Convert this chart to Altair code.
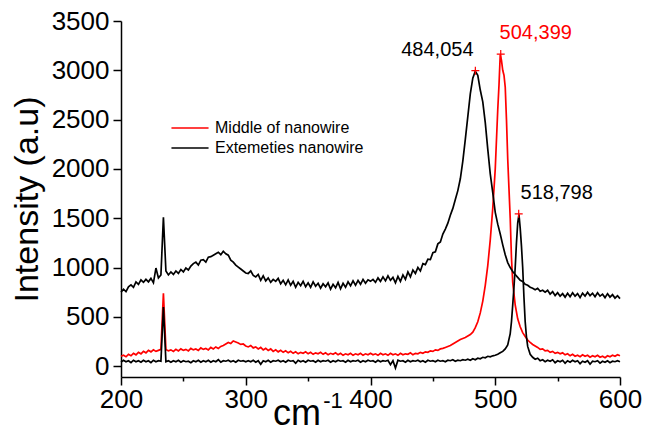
import altair as alt
import pandas as pd

# ---- data ----
X_GRID = list(range(200, 601, 2))

MIDDLE = (
    [100, 110, 95, 120, 105, 130, 115, 140, 125, 150, 135, 160, 145, 165, 150, 160, 170, 740, 170, 155]
    + [165, 150, 170, 155, 175, 160, 170, 155, 180, 165, 175, 160, 185, 170, 180, 165, 190, 175, 195, 180,
       200, 210, 225, 240, 230, 255, 245, 235, 220, 225, 205]
    + [195, 210, 185, 195, 175, 190, 165, 180, 160, 175, 150, 165, 145, 160, 140, 155, 135, 150, 130, 145,
       125, 140, 130, 145, 125, 140, 120, 135, 125, 140, 120, 135, 115, 130, 120, 135, 115, 130, 110, 125,
       115, 130, 110, 125, 115, 130, 110, 125, 115, 130]
    + [115, 125, 110, 130, 115, 125, 110, 130, 115, 125, 110, 130, 115, 125, 120, 135, 115, 130, 125, 140,
       130, 145, 140, 155, 150, 165, 160, 175, 180, 190]
    + [200, 210, 225, 240, 255, 270, 280, 290, 305, 320, 345, 390, 450, 540, 660, 820, 1020, 1280, 1600, 2000]
    + [2600, 3160, 3000, 2830, 2100, 1500, 850, 620, 480, 400, 340, 300, 265, 240, 220, 205, 190, 170, 175, 155,
       160, 140, 150, 130, 140, 125, 135, 115, 125, 105, 120, 100, 110, 95, 115, 100, 110, 90, 105, 95,
       110, 90, 100, 85, 105, 95, 110, 100, 115, 105]
)
MIDDLE_DX = [501, 503, 505, 507, 509, 511, 513]
MIDDLE_DY = [2300, 2850, 3100, 2950, 2500, 1800, 1100]

EXT_UPPER = (
    [750, 780, 755, 805, 825, 800, 855, 830, 875, 850, 880, 855, 890, 845, 995, 895, 925, 1510, 965, 925]
    + [955, 930, 965, 940, 980, 955, 995, 975, 1015, 1040, 1055, 1025, 1075, 1080, 1055, 1105, 1110, 1125, 1140, 1155,
       1130, 1165, 1140, 1125, 1075, 1055, 1025, 1005, 985, 965, 945]
    + [940, 965, 920, 905, 930, 870, 915, 865, 895, 850, 880, 860, 890, 835, 870, 825, 875, 820, 860, 800,
       850, 815, 860, 805, 845, 800, 855, 810, 840, 790, 835, 805, 845, 780, 830, 795, 850, 785, 840, 800,
       855, 815, 865, 820, 870, 830, 880, 840, 875, 860]
    + [880, 850, 895, 860, 905, 865, 915, 870, 900, 845, 910, 860, 925, 880, 955, 905, 975, 940, 1000, 965,
       1040, 1030, 1085, 1080, 1150, 1160, 1240, 1260, 1340, 1390]
    + [1450, 1530, 1600, 1690, 1780, 1900, 2080, 2300, 2530, 2760, 2920, 2990, 2950, 2800, 2680, 2470, 2200, 1950, 1760, 1560]
    + [1440, 1340, 1230, 1130, 1050, 1000, 960, 930, 900, 870, 860, 830, 820, 800, 790, 775, 790, 760, 770, 750,
       770, 730, 755, 715, 745, 710, 735, 700, 740, 705, 745, 710, 735, 695, 740, 710, 750, 715, 740, 705,
       745, 710, 730, 695, 735, 700, 725, 690, 715, 685]
)

EXT_LOWER = (
    [40, 60, 45, 55, 35, 60, 45, 55, 40, 60, 45, 55, 35, 60, 45, 55, 50, 600, 45, 55]
    + [40, 55, 45, 60, 40, 55, 45, 50, 35, 55, 45, 60, 40, 55, 45, 60, 40, 55, 45, 65,
       40, 55, 50, 60, 45, 55, 40, 60, 50, 55, 45]
    + [55, 45, 60, 40, 55, 20, 55, 45, 60, 40, 55, 50, 60, 45, 55, 40, 60, 50, 55, 30,
       60, 45, 55, 40, 60, 50, 55, 40, 60, 45, 55, 50, 60, 40, 55, 45, 60, 50, 55, 40,
       60, 45, 55, 50, 60, 40, 55, 45, 60, 50]
    + [55, 40, 60, 45, 55, 50, 60, 15, 55, -20, 60, 50, 55, 40, 60, 45, 55, 50, 60, 45,
       55, 40, 60, 50, 55, 45, 60, 50, 55, 45]
    + [60, 55, 65, 50, 60, 55, 65, 60, 70, 60, 75, 65, 80, 75, 90, 85, 100, 95, 105, 110]
    + [120, 135, 150, 175, 215, 330, 620, 1000, 1450, 1400, 1000, 450, 200, 120, 90, 70, 80, 55, 65, 45,
       60, 50, 65, 35, 55, 45, 60, 30, 55, 40, 60, 45, 55, 25, 50, 40, 55, 20, 50, 45,
       55, 30, 50, 40, 55, 35, 50, 45, 55, 45]
)
LOWER_DX = [513, 515, 517, 519, 521, 523, 525]
LOWER_DY = [450, 800, 1250, 1540, 1220, 700, 300]

LEGEND_NAMES = ["Middle of nanowire", "Extemeties nanowire"]
LEGEND_COLORS = ["#ff0000", "#000000"]

PEAK_X = [484.054, 504.399, 518.798]
PEAK_Y = [2996, 3165, 1545]
PEAK_LABELS = ["484,054", "504,399", "518,798"]
PEAK_COLORS = ["black", "#ff0000", "black"]
PEAK_DX = [-38, 35, 38]


def series_frame(name, legend, ys, dx=(), dy=()):
    df = pd.DataFrame({"x": X_GRID + list(dx), "y": list(ys) + list(dy)})
    df = df.sort_values("x").reset_index(drop=True)
    df["series"] = name
    df["legend"] = legend
    return df


mid_df = series_frame("middle", LEGEND_NAMES[0], MIDDLE, MIDDLE_DX, MIDDLE_DY)
up_df = series_frame("ext_upper", LEGEND_NAMES[1], EXT_UPPER)
low_df = series_frame("ext_lower", LEGEND_NAMES[1], EXT_LOWER, LOWER_DX, LOWER_DY)

FONT = "Liberation Sans"

x_enc = alt.X(
    "x:Q",
    scale=alt.Scale(domain=[200, 600], nice=False, zero=False),
    axis=alt.Axis(
        title="",
        values=list(range(200, 601, 25)),
        labelExpr="datum.value % 100 === 0 ? datum.label : ''",
        tickSize={"condition": {"test": "datum.value % 100 === 0", "value": 8}, "value": 4},
        labelFont=FONT, labelFontSize=26, labelColor="black", labelPadding=1,
        labelFlush=False, labelOverlap=False,
        domainColor="black", domainWidth=1.5, tickColor="black", tickWidth=1.5,
        grid=False,
    ),
)
y_enc = alt.Y(
    "y:Q",
    scale=alt.Scale(domain=[-110, 3500], nice=False, zero=False),
    axis=alt.Axis(
        title="Intensity (a.u)",
        titleFont=FONT, titleFontSize=34, titleFontWeight="normal", titleColor="black",
        titlePadding=7,
        values=list(range(0, 3501, 250)),
        labelExpr="datum.value % 500 === 0 ? datum.label : ''",
        format="d",
        tickSize={"condition": {"test": "datum.value % 500 === 0", "value": 8}, "value": 4},
        labelFont=FONT, labelFontSize=26, labelColor="black", labelPadding=4,
        labelFlush=False, labelOverlap=False,
        domainColor="black", domainWidth=1.5, tickColor="black", tickWidth=1.5,
        grid=False,
    ),
)
color_enc = alt.Color(
    "legend:N",
    scale=alt.Scale(domain=LEGEND_NAMES, range=LEGEND_COLORS),
    legend=alt.Legend(
        title=None, orient="none", legendX=61, legendY=99,
        symbolType="M-4,0L4,0", symbolSize=86, symbolStrokeWidth=1.5,
        labelFont=FONT, labelFontSize=16, labelColor="black", labelOffset=17,
        rowPadding=4, padding=0,
    ),
)

line_mid = alt.Chart(mid_df).mark_line(strokeWidth=1.7).encode(x=x_enc, y=y_enc, color=color_enc)
line_up = alt.Chart(up_df).mark_line(strokeWidth=1.7).encode(x=x_enc, y=y_enc, color=color_enc)
line_low = alt.Chart(low_df).mark_line(strokeWidth=1.7).encode(x=x_enc, y=y_enc, color=color_enc)

peak_df = pd.DataFrame({"x": PEAK_X, "y": PEAK_Y, "label": PEAK_LABELS})
markers = alt.Chart(peak_df).mark_point(
    shape="M-1,0L1,0M0,-1L0,1", size=64, filled=False, color="#ff0000", strokeWidth=1.2, opacity=1
).encode(x="x:Q", y="y:Q")

label_layers = []
for i in range(len(PEAK_X)):
    label_layers.append(
        alt.Chart(peak_df.iloc[[i]]).mark_text(
            font=FONT, fontSize=20, color=PEAK_COLORS[i], dx=PEAK_DX[i], dy=-21,
            align="center", baseline="middle",
        ).encode(x="x:Q", y="y:Q", text="label:N")
    )

title_df = pd.DataFrame({"t": ["cm"]})
x_title = alt.Chart(title_df).mark_text(
    font=FONT, fontSize=36, color="black", align="center", baseline="alphabetic"
).encode(x=alt.value(176), y=alt.value(404), text="t:N")
sup_df = pd.DataFrame({"t": ["-1"]})
x_title_sup = alt.Chart(sup_df).mark_text(
    font=FONT, fontSize=22, color="black", align="center", baseline="middle"
).encode(x=alt.value(212), y=alt.value(380), text="t:N")

chart = alt.layer(
    line_mid, line_up, line_low, markers, *label_layers, x_title, x_title_sup
).properties(
    width=499, height=356,
    padding={"left": 113, "top": 13, "right": 22, "bottom": 54},
    autosize=alt.AutoSizeParams(type="none"),
).configure_view(strokeWidth=0)

chart.save("out.html", embed_options={"renderer": "svg", "actions": False})
